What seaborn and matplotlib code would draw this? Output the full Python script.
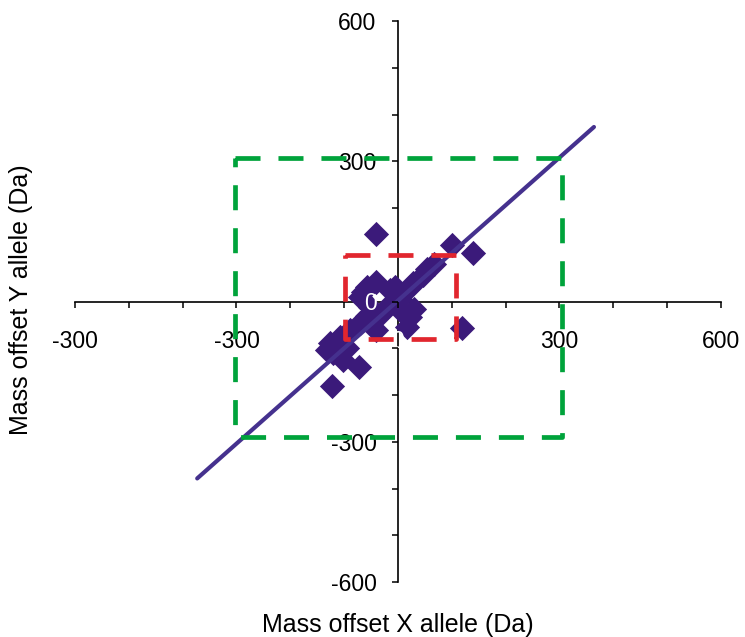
import matplotlib
matplotlib.use("Agg")
import matplotlib.pyplot as plt
import seaborn as sns
import numpy as np
import pandas as pd

# ---- data ----
x_offset = [-41, 100, 140, 118, -72, -123, 66, 53, 47, 28, 22, -58, -40, -71, -52,
            -65, -15, -6, -21, 4, 4, 22, 16, 30, -30, -58, -71, -52, -40, -89,
            -108, -126, -132, -120, -102, -95, -10]
y_offset = [144, 121, 103, -57, -141, -181, 80, 70, 57, 40, 30, 32, 42, 10, -11,
            20, 25, 32, -11, -18, 5, -33, -54, -15, -25, -30, -46, -40, -61, -61,
            -75, -89, -104, -111, -125, -100, 0]

fit_x = [-373, 364]
fit_slope = 1.02
fit_intercept = 2.0

green_box_x = [-303, 305]
green_box_y = [-290, 307]
red_box_x = [-98, 108]
red_box_y = [-80, 100]

tick_values = [-600, -500, -400, -300, -200, -100, 0, 100, 200, 300, 400, 500, 600]
x_tick_labels = ["-300", "", "", "-300", "", "", "0", "", "", "300", "", "", "600"]
y_tick_labels = ["-600", "", "", "-300", "", "", "0", "", "", "300", "", "", "600"]

x_title = "Mass offset X allele (Da)"
y_title = "Mass offset Y allele (Da)"

# ---- style ----
sns.set_theme(style="white")
plt.rcParams["font.family"] = ["Liberation Sans", "DejaVu Sans"]
plt.rcParams["text.color"] = "black"

W, H = 745, 637
fig = plt.figure(figsize=(W / 100, H / 100), dpi=100)
ax = fig.add_axes([75 / W, 1 - 582 / H, 646 / W, 561 / H])

df = pd.DataFrame({"x": x_offset, "y": y_offset})
sns.scatterplot(data=df, x="x", y="y", marker="D", s=165, color="#3B1A7A",
                linewidth=0, ax=ax, zorder=3)

fx = np.array(fit_x, dtype=float)
fy = fit_slope * fx + fit_intercept
sns.lineplot(x=fx, y=fy, color="#45318E", linewidth=3, ax=ax, zorder=3.5)

def draw_box(bx, by, color):
    xs = [bx[0], bx[1], bx[1], bx[0], bx[0]]
    ys = [by[1], by[1], by[0], by[0], by[1]]
    ax.plot(xs, ys, color=color, linewidth=3.4, linestyle=(0, (5.3, 3.8)),
            zorder=5, solid_capstyle="butt", dash_capstyle="butt")

draw_box(green_box_x, green_box_y, "#00A33B")
draw_box(red_box_x, red_box_y, "#E1262E")

ax.set_xlim(-600, 600)
ax.set_ylim(-600, 600)
ax.set_xlabel("")
ax.set_ylabel("")

for s in ["top", "right"]:
    ax.spines[s].set_visible(False)
for s in ["left", "bottom"]:
    ax.spines[s].set_position("zero")
    ax.spines[s].set_color("black")
    ax.spines[s].set_linewidth(1.2)
    ax.spines[s].set_zorder(2)

ax.set_xticks(tick_values)
ax.set_xticklabels(x_tick_labels)
ax.set_yticks(tick_values)
ax.set_yticklabels(y_tick_labels)
ax.tick_params(axis="x", direction="out", length=4.5, width=1.1, color="black",
               labelsize=16.5, pad=16, bottom=True)
ax.tick_params(axis="y", direction="out", length=4.5, width=1.1, color="black",
               labelsize=16.5, pad=11, left=True)
for lbl in ax.get_xticklabels() + ax.get_yticklabels():
    if lbl.get_text() == "0":
        lbl.set_color("white")
    else:
        lbl.set_color("black")
ax.xaxis.set_zorder(4)
ax.yaxis.set_zorder(4)
ax.patch.set_visible(False)

fig.text(398 / W, 1 - 625 / H, x_title, ha="center", va="center", fontsize=18,
         color="black")
fig.text(21 / W, 1 - 300 / H, y_title, ha="center", va="center", fontsize=18,
         rotation=90, color="black")

fig.savefig("out.png", dpi=100)
